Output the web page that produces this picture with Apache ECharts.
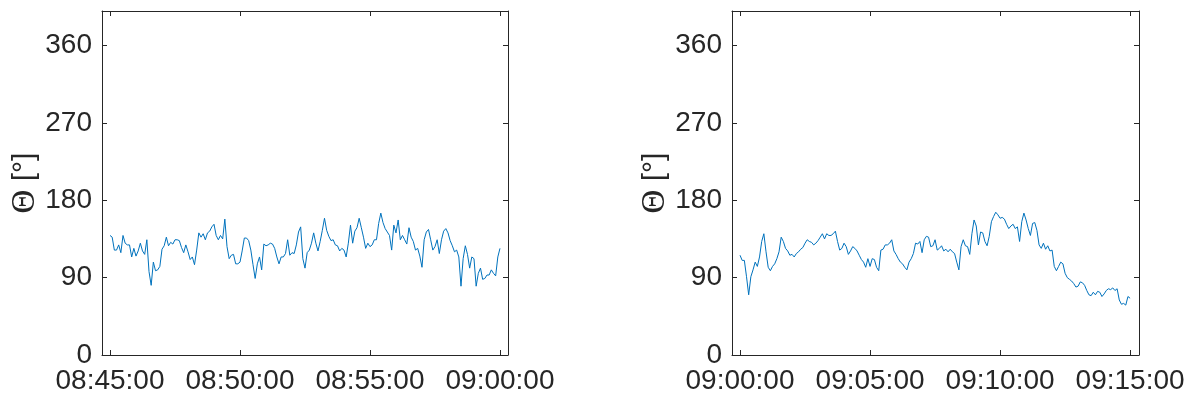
<!DOCTYPE html>
<html>
<head>
    <meta charset="UTF-8">
    <title>Theta time series</title>
    <script type="text/javascript" src="https://cdn.jsdelivr.net/npm/echarts@6.0.0/dist/echarts.min.js"></script>
</head>
<body style="margin: 0;overflow: hidden;background: #fff;">
<div id="chart" style="width: 1194px;height: 402px;"></div>
<script type="text/javascript">
    // seconds of day, one sample every 5 s
    var leftStart = 8 * 3600 + 45 * 60;   // 08:45:00
    var rightStart = 9 * 3600;            // 09:00:00
    var sampleStep = 5;

    var yTicks = [0, 90, 180, 270, 360];
    var leftTicks = [leftStart, leftStart + 300, leftStart + 600, leftStart + 900];
    var rightTicks = [rightStart, rightStart + 300, rightStart + 600, rightStart + 900];

    var leftTheta = [
        139, 137, 122, 122, 128, 119, 139, 130, 128, 128,
        114, 124, 115, 121, 130, 121, 117, 134, 97, 81,
        108, 98, 99, 103, 123, 127, 137, 127, 131, 129,
        134, 134, 133, 125, 119, 128, 120, 111, 114, 105,
        122, 142, 137, 141, 134, 142, 144, 149, 152, 139,
        134, 139, 135, 158, 126, 112, 116, 117, 106, 106,
        108, 121, 136, 136, 133, 122, 105, 89, 106, 114,
        99, 129, 127, 128, 130, 129, 124, 114, 106, 114,
        114, 118, 134, 116, 119, 118, 128, 143, 149, 112,
        101, 119, 122, 130, 142, 130, 121, 132, 145, 159,
        145, 138, 133, 134, 128, 127, 121, 124, 122, 114,
        130, 151, 130, 144, 148, 159, 148, 137, 124, 130,
        126, 128, 134, 134, 153, 165, 154, 147, 143, 139,
        122, 151, 142, 157, 134, 139, 134, 129, 148, 137,
        132, 122, 124, 115, 102, 134, 143, 146, 134, 122,
        126, 134, 118, 134, 144, 147, 142, 133, 127, 120,
        122, 114, 80, 112, 127, 117, 101, 114, 112, 80,
        95, 101, 88, 89, 93, 93, 99, 95, 92, 114, 124
    ];

    var rightTheta = [
        116, 110, 110, 91, 70, 91, 99, 108, 103, 114,
        132, 141, 120, 102, 98, 103, 106, 112, 120, 137,
        132, 124, 121, 116, 117, 114, 118, 120, 123, 125,
        130, 134, 132, 131, 128, 130, 133, 137, 141, 135,
        141, 139, 139, 141, 144, 132, 122, 124, 130, 126,
        117, 121, 126, 124, 121, 116, 111, 108, 102, 112,
        103, 112, 111, 102, 98, 122, 123, 128, 128, 130,
        134, 121, 117, 112, 108, 106, 102, 99, 108, 112,
        118, 130, 129, 132, 119, 134, 138, 137, 126, 127,
        134, 122, 124, 127, 121, 123, 120, 123, 120, 118,
        108, 99, 126, 134, 127, 126, 117, 141, 157, 150,
        128, 143, 142, 132, 127, 138, 155, 161, 166, 163,
        159, 160, 158, 152, 147, 150, 152, 147, 149, 132,
        155, 165, 157, 147, 139, 153, 154, 145, 128, 124,
        130, 123, 127, 121, 122, 103, 98, 103, 108, 106,
        95, 90, 88, 86, 83, 79, 80, 85, 84, 81,
        75, 70, 69, 73, 70, 74, 73, 68, 71, 75,
        77, 76, 78, 75, 77, 64, 59, 60, 58, 68, 66
    ];

    var ink = '#262626';
    var lineBlue = '#0072BD';
    var font = 'Liberation Sans, Arial, Helvetica, sans-serif';

    function pad(n) {
        return n < 10 ? '0' + n : '' + n;
    }
    function clock(v) {
        var s = Math.round(v);
        return pad(Math.floor(s / 3600)) + ':' + pad(Math.floor(s / 60) % 60) + ':' + pad(s % 60);
    }
    function toPairs(start, values) {
        var out = [];
        for (var i = 0; i < values.length; i++) {
            out.push([start + i * sampleStep, values[i]]);
        }
        return out;
    }

    function bottomAxis(idx, min, max, ticks) {
        return {
            type: 'value', gridIndex: idx, position: 'bottom', min: min, max: max,
            splitLine: {show: false},
            axisLine: {show: true, onZero: false, lineStyle: {color: ink, width: 1}},
            axisTick: {show: true, inside: true, length: 5, customValues: ticks, lineStyle: {color: ink}},
            axisLabel: {show: true, customValues: ticks, formatter: clock, color: ink,
                fontSize: 28, fontFamily: font, margin: 12}
        };
    }
    function topAxis(idx, min, max, ticks) {
        return {
            type: 'value', gridIndex: idx, position: 'top', min: min, max: max,
            splitLine: {show: false},
            axisLine: {show: true, onZero: false, lineStyle: {color: ink, width: 1}},
            axisTick: {show: true, inside: true, length: 5, customValues: ticks, lineStyle: {color: ink}},
            axisLabel: {show: false}
        };
    }
    function leftAxis(idx) {
        return {
            type: 'value', gridIndex: idx, position: 'left', min: 0, max: 400,
            name: '{t|Θ} [°]', nameLocation: 'middle', nameRotate: 90, nameGap: 58,
            nameTextStyle: {color: ink, fontSize: 30, fontFamily: font,
                rich: {t: {fontFamily: 'Liberation Serif, Times New Roman, serif', fontSize: 33, color: ink}}},
            splitLine: {show: false},
            axisLine: {show: true, onZero: false, lineStyle: {color: ink, width: 1}},
            axisTick: {show: true, inside: true, length: 5, customValues: yTicks, lineStyle: {color: ink}},
            axisLabel: {show: true, customValues: yTicks, color: ink, fontSize: 28, fontFamily: font, margin: 10}
        };
    }
    function rightAxis(idx) {
        return {
            type: 'value', gridIndex: idx, position: 'right', min: 0, max: 400,
            splitLine: {show: false},
            axisLine: {show: true, onZero: false, lineStyle: {color: ink, width: 1}},
            axisTick: {show: true, inside: true, length: 5, customValues: yTicks, lineStyle: {color: ink}},
            axisLabel: {show: false}
        };
    }

    var lMin = leftStart - 18.5, lMax = leftStart + 900 + 18.5;
    var rMin = rightStart - 18.5, rMax = rightStart + 900 + 20.5;

    var chart = echarts.init(document.getElementById('chart'), null, {renderer: 'canvas'});
    chart.setOption({
        backgroundColor: '#ffffff',
        animation: false,
        grid: [
            {left: 102, top: 11, width: 406, height: 344},
            {left: 732, top: 11, width: 407, height: 344}
        ],
        xAxis: [
            bottomAxis(0, lMin, lMax, leftTicks),
            topAxis(0, lMin, lMax, leftTicks),
            bottomAxis(1, rMin, rMax, rightTicks),
            topAxis(1, rMin, rMax, rightTicks)
        ],
        yAxis: [leftAxis(0), rightAxis(0), leftAxis(1), rightAxis(1)],
        series: [
            {
                type: 'line', xAxisIndex: 0, yAxisIndex: 0, showSymbol: false, sampling: null,
                lineStyle: {color: lineBlue, width: 1}, data: toPairs(leftStart, leftTheta)
            },
            {
                type: 'line', xAxisIndex: 2, yAxisIndex: 2, showSymbol: false, sampling: null,
                lineStyle: {color: lineBlue, width: 1}, data: toPairs(rightStart, rightTheta)
            }
        ]
    });
</script>
</body>
</html>
